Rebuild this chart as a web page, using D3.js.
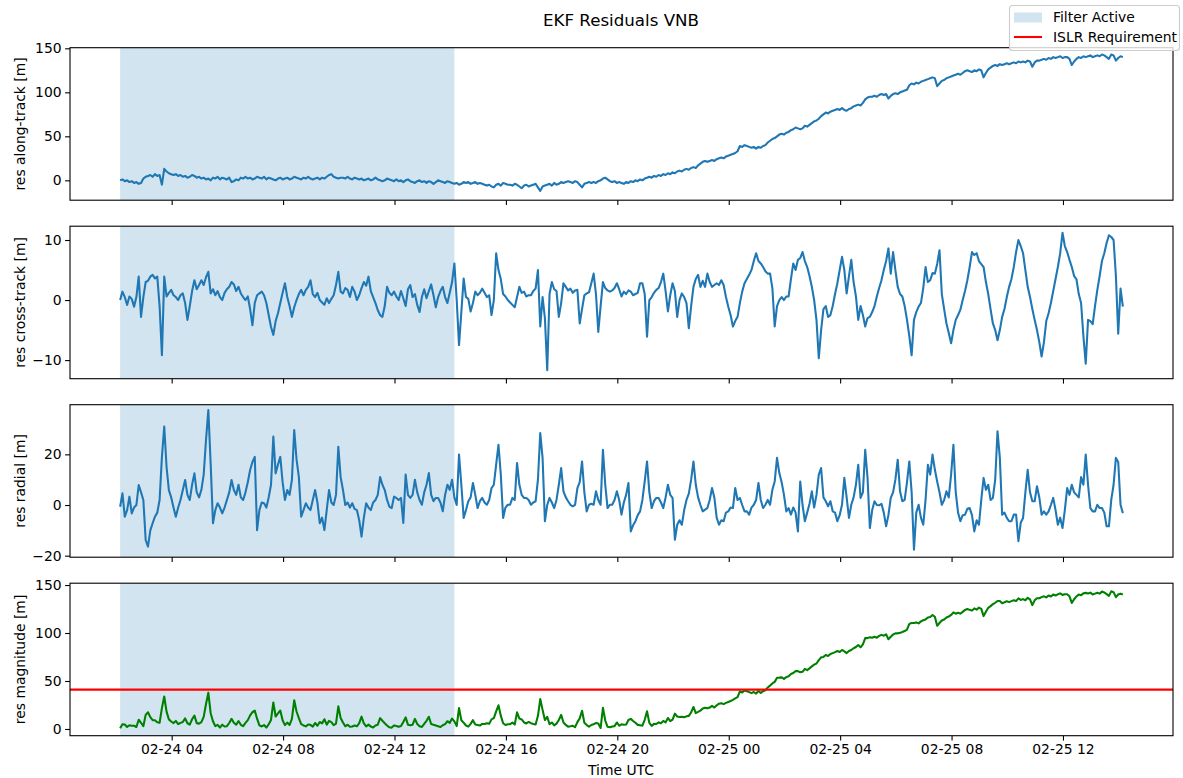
<!DOCTYPE html>
<html>
<head>
<meta charset="utf-8">
<script src="https://cdn.jsdelivr.net/npm/d3@7"></script>
<style>
  body { margin: 0; background: #fff; }
  svg text { font-family: "DejaVu Sans", sans-serif; fill: #000; }
</style>
</head>
<body>
<svg id="fig" width="1183" height="778"></svg>
<script>
// Residual samples every 5 minutes, starting 2024-02-24 02:09 UTC (one row = one hour)
const startTime = Date.UTC(2024, 1, 24, 2, 9);
const stepMinutes = 5;

// Filter active window (start, end)
const filterWindow = [Date.UTC(2024, 1, 24, 2, 9), Date.UTC(2024, 1, 24, 14, 9)];

// ISLR magnitude requirement [m]
const islrRequirement = 41;

// along-track residual [m]
const alongTrack = [
  0, 1, -1, 0, -2, -1, -3, -2, -4, -3, 2, 4,
  5, 6, 4, 7, 5, 6, -5, 13, 10, 8, 7, 6,
  7, 5, 6, 4, 5, 3, 4, 6, 5, 3, 4, 2,
  3, 1, 2, 0, 3, 2, 4, 1, 3, 2, 1, 3,
  -2, -1, 1, 0, 3, 2, 4, 2, 3, 1, 2, 4,
  3, 2, 4, 1, 3, 2, 1, 0, 2, 3, 1, 2,
  3, 1, 2, 4, 3, 2, 1, 3, 2, 4, 2, 1,
  2, 3, 1, 3, 2, 4, 6, 7, 4, 3, 2, 3,
  3, 2, 4, 2, 1, 3, 2, 1, 2, 0, 1, 2,
  0, 1, 3, 1, 0, -1, 0, 2, 1, 0, -1, 1,
  -1, 0, -2, 0, 1, -1, -2, -3, -1, 0, -2, -1,
  -3, -1, -2, -4, -2, 0, -1, -2, -3, -1, -2, -3,
  -4, -3, -5, -4, -2, -3, -2, -4, -3, -2, -4, -3,
  -4, -5, -6, -5, -7, -8, -5, -4, -6, -3, -4, -5,
  -5, -6, -4, -5, -7, -9, -6, -5, -7, -6, -5, -4,
  -8, -12, -7, -6, -5, -4, -6, -3, -5, -4, -2, -3,
  -2, -1, -2, -3, -1, -2, -5, -8, -4, -3, -2, -3,
  -2, -3, -1, 0, 2, 3, 1, -1, -2, -1, -3, -2,
  -3, -4, -2, -3, -1, -2, 0, -1, 1, 0, 2, 3,
  4, 3, 5, 4, 6, 5, 7, 6, 8, 7, 9, 8,
  10, 11, 10, 12, 13, 12, 14, 15, 14, 17, 19, 21,
  22, 21, 22, 23, 22, 24, 25, 26, 25, 27, 28, 29,
  30, 31, 33, 39, 38, 40, 39, 38, 37, 38, 36, 38,
  37, 39, 40, 43, 45, 47, 48, 50, 52, 53, 52, 54,
  55, 57, 58, 60, 59, 58, 59, 62, 61, 63, 65, 67,
  68, 70, 73, 75, 77, 76, 78, 79, 80, 81, 80, 82,
  80, 79, 81, 82, 84, 85, 86, 85, 88, 92, 94, 95,
  95, 96, 95, 97, 98, 97, 98, 93, 96, 98, 99, 98,
  100, 101, 102, 103, 108, 110, 109, 111, 110, 112, 113, 114,
  115, 116, 117, 116, 107, 110, 113, 114, 116, 117, 118, 119,
  120, 121, 120, 122, 124, 125, 124, 123, 125, 124, 126, 125,
  117, 122, 126, 128, 130, 131, 130, 132, 131, 132, 133, 132,
  133, 134, 133, 135, 134, 135, 134, 136, 135, 129, 134, 136,
  136, 137, 138, 137, 139, 138, 140, 139, 140, 141, 139, 140,
  140, 138, 131, 135, 138, 140, 139, 141, 140, 141, 142, 140,
  141, 142, 141, 143, 142, 140, 138, 143, 142, 136, 139, 141,
  140
];

// cross-track residual [m]
const crossTrack = [
  0, 1.4, 0.5, -0.8, 0.6, 0.2, -1.1, 0.5, 3.9, -2.8, 0.5, 3,
  3.2, 3.9, 4.2, 3.6, 3.9, -1, -9.2, 3.9, 0.6, 1.2, 1.7, 0.8,
  0.5, 0, 0.8, 1.1, -0.5, -3.3, -1, 1.5, 3.3, 1.8, 2.5, 3.3,
  2.5, 3.8, 4.7, 1.1, 1.8, 0.8, 1.5, 0.5, 0, 1.2, 1.8, 2.2,
  3, 2.6, 1.5, 2.2, 1.1, 0.5, 0, 0.6, -1.5, -4.2, -0.5, 0.8,
  1.1, 1.4, 0.8, -0.5, -2.5, -4.5, -5.8, -3.5, -2.2, -0.5, 1.2, 2.8,
  0.5, -1, -2.8, -1.2, 0, 1, 1.7, 0.8, 1.7, 2.2, 3.3, 1,
  0.5, 1.2, 0, -0.4, -0.8, 0.3, -0.5, 0.2, 0.8, 2.5, 4.7, 1.4,
  1.1, 2, 1.7, 0.5, 2.2, 1.4, 0, 0.8, 2, 3, 2.4, 3.9,
  1.5, 0.5, -0.5, -1.7, -2.5, -2.8, -1, 2.2, 1.2, 0.8, 1.4, 0.6,
  0, 1.5, 0.3, -1, 1.8, 2.5, 0.5, 1, -0.8, -2, 0.5, 1.8,
  0.3, 1.5, 2.6, 0.8, -1.2, 0.5, 1.5, 2.2, 0.5, -0.5, 1.2, 3,
  6.1, 0, -7.5, -2, 3.6, 0.5, 0.2, -1.9, -0.5, 1.4, 0.8, 1.2,
  1.9, 1.2, 0.5, 0.8, -2.5, 0, 7.8, 5, 3.5, 1, 0.6, 0,
  -0.4, -0.8, -1.2, 0.5, 2.2, 1.2, 1.4, 0.6, 0.8, 0.8, 1.5, 1.9,
  5, -4.4, 0.5, -3, -11.7, 1, 3, 1.8, 1.5, -2.8, -0.5, 2.8,
  2.2, 1.6, 1.9, 1.2, 1.6, 1.7, -3.9, -1.5, 0.8, 1.1, 1.3, 2.8,
  4.4, 1, -5.3, -1, 3, 2, 1.6, 1.4, 1.6, 2, 2.8, 1.8,
  0.6, 1.4, 1, 1.6, 1.4, 0.8, 1, 1.2, 2.8, 2.8, 1, -6.1,
  0, 0.5, 1.2, 1.7, 2, 3, 4.4, 1.5, -1.9, 0.8, 2.8, 1.5,
  -2.8, 0, 1.1, 0.5, -0.5, -4.7, -1, 2.2, 3.5, 4.2, 2.2, 3.2,
  2.2, 4.4, 3, 2.2, 2.5, 2.8, 2.5, 3.3, 2.5, 0.5, -1.1, -2.5,
  -4.4, -3.5, -2.8, -0.5, 1.4, 2.8, 3.5, 4.2, 5, 6.5, 7.8, 6.5,
  6.1, 5.5, 4.8, 4.4, 4.4, 2, -4.4, -1, 0, 0.5, 0, 0.6,
  0.6, 3.5, 6.1, 5, 6.7, 7, 8, 6.5, 5.5, 4, 2.2, 0,
  -3.3, -9.7, -5, -1.5, -1, -2.8, -2.5, -1, 1, 2.8, 5, 7.2,
  5, 1.1, 4, 6.7, 3, 0.6, -3.3, -1, -2.5, -4.4, -3, -2.8,
  -2, -1, 0.6, 2, 3.3, 5, 6.5, 8.6, 4.4, 8, 5, 2.2,
  1, 0.6, -1, -3.3, -6, -9.2, -3.3, -2, -1.1, -0.5, 2, 5.5,
  3, 3.3, 4.5, 4.4, 6, 8.3, 1, -1.5, -3.9, -5.5, -7.2, -5,
  -3.3, -2.5, -1.6, 0, 1.5, 3.3, 5.5, 8, 7.5, 7.8, 6.5, 6,
  5.5, 3, 1, -1.5, -3.9, -5, -6.7, -5, -2.8, -1.5, 0.5, 2.2,
  3.5, 5.5, 8, 10, 9, 7.8, 5, 2.2, 0.5, -1.5, -3.3, -5,
  -7, -9.4, -7, -3.5, -2.2, -0.5, 1.5, 3.5, 5.5, 7.8, 11.2, 9,
  8, 6.7, 5.5, 4, 3.5, 1, -0.5, -6, -10.6, -3.3, -3.5, -4,
  -1, 1.7, 4, 6.5, 7.8, 9.5, 10.8, 10.5, 10, 4, -5.6, 1.9,
  -1.1
];

// radial residual [m]
const radial = [
  -0.7, 4.6, -4.6, -2, 3.3, -3.3, -1, 0, 7.9, 5, 2, -13.8,
  -16.4, -10, -7.2, -4.6, -3, 2, 19, 31, 15, 5.9, 3, -1,
  -4.6, -1, 2, 5.9, 9.9, 4, 2, 8, 12.5, 5, 3, 6,
  12, 25.7, 37.5, 16.4, -7.2, -2, 0.7, -1, -3.3, -1, 2, 5,
  9.9, 5.9, 4, 8, 3, 2, 5, 9, 13.8, 17, 19, -9.9,
  -2, 1, 0.7, -1, 3, 8, 27, 12.5, 16, 19, 9, 2,
  5.9, 4, 9.9, 29.6, 18, 11, -4.6, -2, 0.7, -1, -2, 2,
  5.9, 1, -7.2, -5, -9.9, -2, 5.9, 1, 0, 4, 23, 11,
  6, 0, 1, -1, 0.7, -1.5, -2, -6, -12.5, -5, 0.7, -1,
  -2, 1, 2, 4, 11, 8, 5.9, 2, -0.7, -1.2, 3.3, 2.8,
  2, 2.8, -7.1, 12, 4, 2.8, 4, 10, 5, 2, 0.1, 5,
  8, 12.6, 4, 1.5, 2.8, 2.8, 1, -2.5, 4, 8, 6, 10,
  3, 0, 19.9, 8, -5.1, -2, 1.5, 3, 8.7, 4, -1.2, 1.5,
  2.8, 1, 0.1, 2, 6.7, 8, 15.9, 23.8, 12, -5.1, -1, 0.1,
  0.1, 2.8, 2, 16.6, 8, 4, 2.8, 2.8, 2, 0.1, 1, 1.5,
  10, 28.4, 18.6, -6.4, 0, 2.8, 1, -1.2, 2, 8, 14.6, 5.4,
  3, 1.5, 0.1, -0.5, 0.1, 6.7, 9, 17.2, 5, -2.5, 0.1, 0.5,
  0.1, 5.4, 2, 0.1, 21.8, 8, -1.2, 0.1, 0.1, 2, 5.4, 2,
  -3.8, 1, 4, 8.7, -10.4, -8, -6.4, -4, -2.5, 2, 9.3, 17.2,
  5, -1.2, 1.5, 2.8, 2.8, 1, -1.2, 3, 8, 4, 2.8, -13.7,
  -7.8, -6, -7.8, -2, 2, 4.5, 10, 17.2, 8, 3, 0, -2.5,
  -1.8, -1.2, 2, 6.7, 3, -5, -7.8, -6, -6.4, -3, -2.5, -1,
  -1.2, 6.7, 2, 2.8, 0, -2.5, -2.5, -3.8, -1, 0.1, 2, 8.7,
  2, -1.2, 0.1, 2, 0.1, 6, 9.3, 18.6, 12.6, 9, 4, -2.5,
  -1.2, -3.8, -1, -3, -10.4, 9.3, 0, -6.4, -3, 0.5, 5.4, -1,
  4, 12, 14.6, 3, 1.5, -0.5, 1.5, -2.5, -3, -6.4, -4, 0.1,
  10.7, 3, -5.1, 0.1, 3, 8, 15.9, 2.8, 5, 21.8, 10.7, -9.1,
  -2, 1.5, 0, -0.1, 0.5, -3, -8.4, -4, 2.8, 5, 10, 17.9,
  5.4, 1.5, 2, 9, 17.2, 5, -17.6, -3, 0.1, -5, -7.8, 2,
  15.9, 12, 19.9, 14, 9.3, 5, 0.1, 2, 5.4, 3, 12, 23.8,
  5, -3, -6.4, -4, -3.8, -1.5, -1.2, -4, -10.4, -6, -7.8, 2,
  10.7, 6, 8, 2, 2.8, 10, 29.1, 18.6, -3.8, -3, -5.1, -6.4,
  -6.4, -3.8, -3.8, -14.3, -7, -5.1, 5, 13.9, 5, 1.5, 1.5, 7.4,
  3, -3.8, -2.5, -3.8, -2.5, 0, 2.8, -2, -7.8, -5, -9.1, -2,
  6.7, 4, 8, 5, 4, 3, 11, 8, 19.9, 8, -1.2, -2.5,
  -2.5, 0.1, -1.2, -1.2, -3, -8.4, -8.4, 2, 8, 18.6, 17, 0.1,
  -3.2
];

// Axis tick values
const yTicksAlong = [0, 50, 100, 150];
const yTicksCross = [-10, 0, 10];
const yTicksRadial = [-20, 0, 20];
const yTicksMag = [0, 50, 100, 150];

// ---------------------------------------------------------------------------
const times = alongTrack.map((_, i) => new Date(startTime + i * stepMinutes * 60000));
// residual vector norm
const magnitude = alongTrack.map((a, i) => Math.sqrt(a * a + crossTrack[i] ** 2 + radial[i] ** 2));

const svg = d3.select("#fig");
const left = 70, right = 1173;
const panelH = 152.5, panelStep = 178.5, firstTop = 47.7;
const C0 = "#1f77b4";
const fontPx = 13.9;

const x = d3.scaleUtc()
  .domain([new Date(Date.UTC(2024, 1, 24, 0, 21)), new Date(Date.UTC(2024, 1, 25, 15, 57))])
  .range([left, right]);

const panels = [
  { label: "res along-track [m]", values: alongTrack, color: C0, domain: [-22.6, 150.7], ticks: yTicksAlong },
  { label: "res cross-track [m]", values: crossTrack, color: C0, domain: [-13.1, 12.3], ticks: yTicksCross },
  { label: "res radial [m]", values: radial, color: C0, domain: [-20.6, 39.6], ticks: yTicksRadial },
  { label: "res magnitude [m]", values: magnitude, color: "#008000", domain: [-7.0, 151.9], ticks: yTicksMag, requirement: true }
];

const defs = svg.append("defs");

panels.forEach((p, k) => {
  const top = firstTop + k * panelStep;
  const bottom = top + panelH;
  const y = d3.scaleLinear().domain(p.domain).range([bottom, top]);
  const g = svg.append("g");

  const clipId = "clip" + k;
  defs.append("clipPath").attr("id", clipId)
    .append("rect").attr("x", left).attr("y", top).attr("width", right - left).attr("height", panelH);

  const plot = g.append("g").attr("clip-path", `url(#${clipId})`);

  // filter-active span
  plot.append("rect")
    .attr("x", x(new Date(filterWindow[0])))
    .attr("width", x(new Date(filterWindow[1])) - x(new Date(filterWindow[0])))
    .attr("y", top).attr("height", panelH)
    .attr("fill", C0).attr("fill-opacity", 0.2);

  const line = d3.line().x((d, i) => x(times[i])).y(d => y(d));
  plot.append("path")
    .datum(p.values)
    .attr("d", line)
    .attr("fill", "none")
    .attr("stroke", p.color)
    .attr("stroke-width", 2.08)
    .attr("stroke-linejoin", "round");

  if (p.requirement) {
    plot.append("line")
      .attr("x1", left).attr("x2", right)
      .attr("y1", y(islrRequirement)).attr("y2", y(islrRequirement))
      .attr("stroke", "#ff0000").attr("stroke-width", 2.08);
  }

  // y axis
  const yAxis = g.append("g").attr("transform", `translate(${left},0)`)
    .call(d3.axisLeft(y).tickValues(p.ticks).tickSize(4.9).tickPadding(3.5)
      .tickFormat(d => d < 0 ? "\u2212" + Math.abs(d) : String(d)));
  yAxis.select(".domain").remove();
  yAxis.selectAll("line").attr("stroke", "#000").attr("stroke-width", 1.1);
  yAxis.selectAll("text").attr("font-size", fontPx).attr("font-family", "DejaVu Sans").attr("fill", "#000");

  // x axis
  const xAxis = g.append("g").attr("transform", `translate(0,${bottom})`)
    .call(d3.axisBottom(x).ticks(d3.utcHour.every(4)).tickSize(4.9).tickPadding(3.5)
      .tickFormat(k === panels.length - 1 ? d3.utcFormat("%m-%d %H") : () => ""));
  xAxis.select(".domain").remove();
  xAxis.selectAll("line").attr("stroke", "#000").attr("stroke-width", 1.1);
  xAxis.selectAll("text").attr("font-size", fontPx).attr("font-family", "DejaVu Sans").attr("fill", "#000");

  // frame
  g.append("rect")
    .attr("x", left).attr("y", top).attr("width", right - left).attr("height", panelH)
    .attr("fill", "none").attr("stroke", "#000").attr("stroke-width", 1.1);

  // y label
  g.append("text")
    .attr("transform", `translate(25,${(top + bottom) / 2}) rotate(-90)`)
    .attr("text-anchor", "middle")
    .attr("font-size", fontPx)
    .text(p.label);
});

// title
svg.append("text")
  .attr("x", 621).attr("y", 26)
  .attr("text-anchor", "middle")
  .attr("font-size", 16.67)
  .text("EKF Residuals VNB");

// x label
svg.append("text")
  .attr("x", 621).attr("y", 775)
  .attr("text-anchor", "middle")
  .attr("font-size", fontPx)
  .text("Time UTC");

// legend
const lg = svg.append("g");
lg.append("rect")
  .attr("x", 1009.5).attr("y", 5.5).attr("width", 170).attr("height", 45).attr("rx", 3)
  .attr("fill", "#fff").attr("fill-opacity", 0.8)
  .attr("stroke", "#cccccc").attr("stroke-width", 1.1);
lg.append("rect")
  .attr("x", 1014).attr("y", 12.5).attr("width", 28).attr("height", 10)
  .attr("fill", C0).attr("fill-opacity", 0.2);
lg.append("text").attr("x", 1053).attr("y", 22).attr("font-size", fontPx).text("Filter Active");
lg.append("line")
  .attr("x1", 1014).attr("x2", 1042).attr("y1", 37).attr("y2", 37)
  .attr("stroke", "#ff0000").attr("stroke-width", 2.08);
lg.append("text").attr("x", 1053).attr("y", 42).attr("font-size", fontPx).text("ISLR Requirement");
</script>
</body>
</html>
